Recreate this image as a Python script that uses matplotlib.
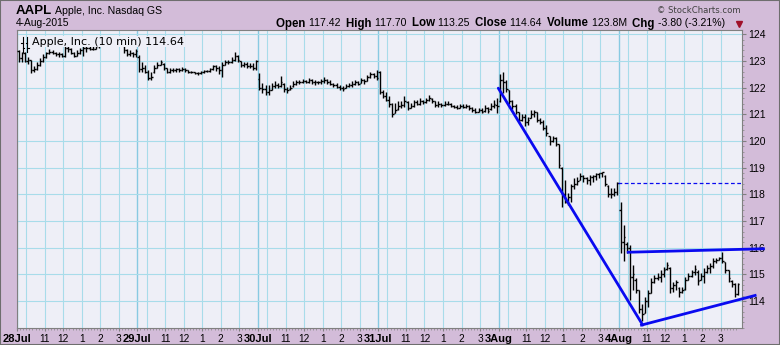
import matplotlib
matplotlib.use('Agg')
import matplotlib.pyplot as plt
from matplotlib.lines import Line2D
from matplotlib.patches import Rectangle
import numpy as np

# 10-minute bars (open, high, low, close), 39 per session
jul28 = [(123.38, 123.42, 122.95, 123.10), (123.10, 123.35, 122.95, 123.30), (123.30, 123.35, 122.95, 123.00),
         (123.00, 123.15, 122.90, 123.05), (123.05, 123.05, 122.55, 122.65), (122.65, 122.80, 122.60, 122.70),
         (122.70, 122.95, 122.65, 122.85), (122.85, 123.10, 122.80, 123.00), (123.00, 123.25, 122.95, 123.15),
         (123.15, 123.35, 123.10, 123.30), (123.30, 123.45, 123.25, 123.35), (123.35, 123.40, 123.25, 123.30),
         (123.30, 123.35, 123.20, 123.25), (123.25, 123.35, 123.15, 123.25), (123.25, 123.30, 123.15, 123.20),
         (123.20, 123.60, 123.15, 123.50), (123.50, 123.60, 123.35, 123.45), (123.45, 123.50, 123.25, 123.30),
         (123.30, 123.35, 123.15, 123.20), (123.20, 123.40, 123.20, 123.30), (123.30, 123.50, 123.25, 123.40),
         (123.40, 123.60, 123.20, 123.50), (123.50, 123.60, 123.35, 123.50), (123.50, 123.55, 123.40, 123.45),
         (123.45, 123.55, 123.40, 123.45), (123.45, 123.65, 123.45, 123.55), (123.55, 123.70, 123.50, 123.60),
         (123.60, 123.80, 123.55, 123.70), (123.70, 123.80, 123.65, 123.75), (123.75, 123.82, 123.68, 123.75),
         (123.75, 123.91, 123.70, 123.80), (123.80, 123.85, 123.70, 123.75), (123.75, 123.80, 123.65, 123.75),
         (123.75, 123.85, 123.65, 123.70), (123.70, 123.75, 123.30, 123.40), (123.40, 123.45, 123.20, 123.25),
         (123.25, 123.40, 123.20, 123.30), (123.30, 123.35, 123.15, 123.25), (123.25, 123.45, 123.15, 123.38)]
jul29 = [(123.15, 123.22, 122.60, 122.70), (122.70, 122.97, 122.60, 122.75), (122.75, 122.85, 122.55, 122.60),
         (122.60, 122.66, 122.29, 122.35), (122.35, 122.60, 122.27, 122.40), (122.60, 122.85, 122.55, 122.75),
         (122.75, 122.97, 122.72, 122.85), (122.85, 123.04, 122.85, 122.95), (122.90, 122.91, 122.66, 122.75),
         (122.75, 122.75, 122.54, 122.60), (122.60, 122.72, 122.55, 122.65), (122.65, 122.72, 122.58, 122.65),
         (122.65, 122.75, 122.58, 122.70), (122.70, 122.72, 122.58, 122.65), (122.65, 122.76, 122.62, 122.70),
         (122.70, 122.72, 122.58, 122.65), (122.65, 122.66, 122.56, 122.60), (122.60, 122.62, 122.54, 122.57),
         (122.57, 122.60, 122.52, 122.55), (122.55, 122.60, 122.48, 122.55), (122.55, 122.62, 122.52, 122.58),
         (122.58, 122.66, 122.55, 122.62), (122.62, 122.66, 122.58, 122.64), (122.64, 122.72, 122.60, 122.68),
         (122.68, 122.85, 122.66, 122.80), (122.80, 122.85, 122.62, 122.75), (122.75, 122.80, 122.52, 122.65),
         (122.65, 122.97, 122.41, 122.85), (122.85, 123.03, 122.85, 122.95), (122.95, 123.03, 122.88, 122.95),
         (122.95, 123.15, 122.92, 123.05), (123.05, 123.32, 123.00, 123.20), (123.20, 123.22, 122.97, 123.05),
         (123.00, 123.00, 122.78, 122.85), (122.85, 122.97, 122.78, 122.90), (122.90, 122.97, 122.72, 122.80),
         (122.80, 122.91, 122.72, 122.80), (122.80, 122.91, 122.66, 122.75), (122.75, 123.02, 122.66, 122.99)]
jul30 = [(122.32, 122.54, 121.92, 122.00), (122.00, 122.17, 121.79, 121.95), (121.95, 122.10, 121.73, 121.85),
         (121.85, 122.10, 121.71, 121.90), (121.90, 122.17, 121.92, 122.05), (122.05, 122.23, 121.98, 122.10),
         (122.10, 122.17, 121.98, 122.05), (122.05, 122.42, 122.04, 122.20), (122.15, 122.17, 121.85, 121.95),
         (121.95, 122.04, 121.79, 121.90), (121.95, 122.10, 121.92, 122.00), (122.05, 122.23, 122.04, 122.15),
         (122.15, 122.29, 122.10, 122.20), (122.20, 122.29, 122.14, 122.22), (122.22, 122.32, 122.17, 122.25),
         (122.25, 122.29, 122.17, 122.22), (122.22, 122.35, 122.17, 122.30), (122.30, 122.32, 122.14, 122.20),
         (122.20, 122.29, 122.10, 122.22), (122.22, 122.26, 122.14, 122.20), (122.20, 122.32, 122.14, 122.25),
         (122.25, 122.39, 122.17, 122.30), (122.30, 122.32, 122.14, 122.22), (122.22, 122.29, 122.10, 122.15),
         (122.15, 122.19, 122.04, 122.08), (122.08, 122.17, 121.98, 122.02), (122.02, 122.10, 121.92, 121.98),
         (121.98, 122.06, 121.89, 121.95), (122.00, 122.14, 121.98, 122.05), (122.05, 122.17, 122.02, 122.10),
         (122.10, 122.23, 122.04, 122.15), (122.15, 122.29, 122.10, 122.20), (122.20, 122.26, 122.10, 122.15),
         (122.18, 122.35, 122.17, 122.30), (122.30, 122.32, 122.14, 122.25), (122.25, 122.48, 122.23, 122.40),
         (122.40, 122.57, 122.35, 122.50), (122.50, 122.54, 122.35, 122.45), (122.45, 122.66, 122.30, 122.37)]
jul31 = [(122.60, 122.64, 121.75, 121.85), (121.85, 121.92, 121.60, 121.70), (121.70, 121.85, 121.48, 121.55),
         (121.55, 121.67, 121.29, 121.40), (121.40, 121.42, 120.91, 121.00), (121.05, 121.42, 121.04, 121.15),
         (121.20, 121.48, 121.17, 121.30), (121.30, 121.48, 121.23, 121.35), (121.35, 121.67, 121.29, 121.50),
         (121.45, 121.48, 121.17, 121.25), (121.25, 121.42, 121.23, 121.30), (121.30, 121.54, 121.29, 121.45),
         (121.45, 121.54, 121.35, 121.40), (121.40, 121.60, 121.35, 121.50), (121.50, 121.54, 121.39, 121.45),
         (121.45, 121.60, 121.42, 121.52), (121.52, 121.73, 121.48, 121.62), (121.58, 121.60, 121.42, 121.48),
         (121.48, 121.48, 121.29, 121.35), (121.35, 121.48, 121.29, 121.38), (121.38, 121.44, 121.29, 121.35),
         (121.35, 121.48, 121.32, 121.40), (121.40, 121.48, 121.35, 121.38), (121.38, 121.42, 121.26, 121.30),
         (121.30, 121.35, 121.23, 121.28), (121.28, 121.35, 121.19, 121.25), (121.25, 121.39, 121.23, 121.30),
         (121.30, 121.39, 121.23, 121.28), (121.28, 121.39, 121.23, 121.32), (121.32, 121.35, 121.17, 121.22),
         (121.22, 121.29, 121.10, 121.15), (121.15, 121.25, 121.06, 121.10), (121.10, 121.23, 121.10, 121.15),
         (121.15, 121.23, 121.04, 121.08), (121.12, 121.35, 121.10, 121.25), (121.25, 121.29, 121.06, 121.12),
         (121.20, 121.42, 121.17, 121.30), (121.30, 121.54, 121.23, 121.40), (121.35, 121.60, 121.04, 121.30)]
aug3 = [(121.50, 122.50, 121.45, 122.30), (122.30, 122.57, 121.80, 122.20), (122.20, 122.30, 121.85, 121.95),
        (121.90, 121.90, 121.40, 121.50), (121.50, 121.55, 121.20, 121.30), (121.30, 121.40, 121.00, 121.10),
        (121.10, 121.10, 120.70, 120.80), (120.80, 121.00, 120.75, 120.90), (120.90, 121.00, 120.55, 120.70),
        (120.70, 120.90, 120.60, 120.80), (120.85, 121.15, 120.85, 121.00), (121.00, 121.15, 120.90, 121.10),
        (121.10, 121.10, 120.70, 120.80), (120.80, 120.85, 120.65, 120.70), (120.70, 120.80, 120.40, 120.50),
        (120.50, 120.60, 120.20, 120.30), (120.20, 120.20, 119.85, 120.00), (120.00, 120.20, 119.95, 120.10),
        (120.10, 120.15, 119.80, 119.90), (119.90, 119.90, 119.00, 119.10), (119.00, 119.04, 117.52, 118.00),
        (118.00, 118.54, 117.67, 117.70), (117.70, 118.04, 117.60, 117.90), (117.90, 118.40, 117.70, 118.30),
        (118.30, 118.60, 118.20, 118.40), (118.40, 118.65, 118.35, 118.50), (118.55, 118.80, 118.55, 118.70),
        (118.70, 118.72, 118.45, 118.60), (118.60, 118.66, 118.40, 118.55), (118.55, 118.72, 118.35, 118.65),
        (118.65, 118.72, 118.48, 118.70), (118.70, 118.80, 118.55, 118.75), (118.75, 118.80, 118.60, 118.80),
        (118.80, 118.85, 118.65, 118.85), (118.70, 118.72, 118.30, 118.40), (118.30, 118.35, 117.90, 118.00),
        (118.00, 118.22, 117.85, 118.00), (118.00, 118.22, 117.92, 118.10), (118.10, 118.48, 117.98, 118.44)]
aug4 = [(117.42, 117.70, 115.80, 116.20), (116.20, 116.85, 115.50, 116.40), (116.15, 116.20, 115.80, 116.00),
        (116.00, 116.10, 114.04, 114.90), (114.90, 115.35, 114.40, 115.00), (114.80, 114.85, 114.29, 114.40),
        (114.40, 114.40, 113.54, 113.70), (113.70, 113.90, 113.25, 113.50), (113.55, 114.17, 113.54, 114.00),
        (114.00, 114.42, 113.79, 114.30), (114.30, 114.85, 114.29, 114.70), (114.70, 114.98, 114.66, 114.85),
        (114.85, 115.04, 114.79, 114.90), (114.90, 115.17, 114.73, 115.00), (115.00, 115.29, 114.92, 115.15),
        (115.20, 115.48, 115.17, 115.35), (115.25, 115.29, 114.29, 114.50), (114.50, 114.73, 114.35, 114.60),
        (114.60, 114.79, 114.42, 114.70), (114.50, 114.54, 114.17, 114.35), (114.35, 114.54, 114.29, 114.40),
        (114.45, 114.92, 114.42, 114.80), (114.80, 115.04, 114.79, 114.95), (114.95, 115.17, 114.92, 115.10),
        (115.10, 115.35, 114.98, 115.20), (115.10, 115.17, 114.60, 114.75), (114.80, 115.04, 114.79, 114.95),
        (114.95, 115.23, 114.67, 115.10), (115.10, 115.35, 115.04, 115.25), (115.25, 115.42, 115.04, 115.30),
        (115.30, 115.60, 115.23, 115.50), (115.50, 115.60, 115.42, 115.55), (115.55, 115.67, 115.54, 115.62),
        (115.62, 115.85, 115.42, 115.50), (115.45, 115.48, 115.04, 115.15), (115.15, 115.17, 114.73, 114.85),
        (114.75, 114.79, 114.54, 114.65), (114.65, 114.67, 114.17, 114.25), (114.25, 114.67, 114.23, 114.64)]

day_labels = ['28Jul', '29Jul', '30Jul', '31Jul', '3Aug', '4Aug']
hour_labels = ['11', '12', '1', '2', '3']
y_ticks = [114, 115, 116, 117, 118, 119, 120, 121, 122, 123, 124]

# trend lines drawn on the chart (bar index, price)
down_x, down_y = [155.4, 202.2], [121.98, 113.10]
upper_x, upper_y = [197.5, 241.3], [115.83, 115.96]
lower_x, lower_y = [201.8, 238.6], [113.10, 114.21]
prev_close = 118.44

header_items = [('Open', '117.42'), ('High', '117.70'), ('Low', '113.25'),
                ('Close', '114.64'), ('Volume', '123.8M'), ('Chg', '-3.80 (-3.21%)')]

bars = jul28 + jul29 + jul30 + jul31 + aug3 + aug4
o, h, l, c = np.array(bars).T
x = np.arange(len(bars))
per_day = 39

W, H = 780, 345
bg = '#D3BCD9'
plot_bg = '#EEEFF7'
grid_c = '#A8DCEA'
day_c = '#88CAE2'

fig = plt.figure(figsize=(7.8, 3.45), dpi=100, facecolor=bg)
ax = fig.add_axes([17 / W, (H - 328) / H, 725 / W, 298 / H])
ax.set_facecolor(plot_bg)
ax.set_xlim(-0.5, 234.35)
ax.set_ylim(112.99, 124.16)

# grid
for d in range(len(day_labels)):
    start = d * per_day - 0.5
    ax.axvline(start, color=day_c, lw=1.0, zorder=1)
    for k in range(6):
        ax.axvline(start + 3 + 6 * k, color=grid_c, lw=0.8, zorder=1)
for yv in y_ticks:
    ax.axhline(yv, color=grid_c, lw=0.8, zorder=1)

# OHLC bars
ax.vlines(x, l, h, color='black', lw=1.0, zorder=3)
ax.hlines(o, x - 0.5, x, color='black', lw=1.0, zorder=3)
ax.hlines(c, x, x + 0.5, color='black', lw=1.0, zorder=3)

# annotations
ax.plot(down_x, down_y, color='#0A0AF0', lw=2.0, zorder=4, solid_capstyle='round')
ax.plot(upper_x, upper_y, color='#0A0AF0', lw=2.0, zorder=4, clip_on=False)
ax.plot(lower_x, lower_y, color='#0A0AF0', lw=2.0, zorder=4, clip_on=False)
ax.plot([194.3, 234.35], [prev_close, prev_close], color='#0A0AF0', lw=0.9,
        ls=(0, (3, 2)), zorder=4)

# axes styling
for s in ax.spines.values():
    s.set_color('#808080')
    s.set_linewidth(0.8)
ax.yaxis.tick_right()
ax.set_yticks(y_ticks)
ax.set_yticklabels([str(v) for v in y_ticks], fontsize=7.5, family='Liberation Sans')
ax.set_yticks(np.arange(113.0, 124.16, 0.2), minor=True)
ax.tick_params(axis='y', which='major', length=3, width=0.8, color='#808080', pad=1.5)
ax.tick_params(axis='y', which='minor', length=1.5, width=0.6, color='#909090')

xt, xl = [], []
for d, lab in enumerate(day_labels):
    start = d * per_day - 0.5
    xt.append(start)
    xl.append(lab)
    for k, hl in enumerate(hour_labels):
        xt.append(start + 9 + 6 * k)
        xl.append(hl)
ax.set_xticks(xt)
ax.set_xticklabels(xl, fontsize=7.3, family='Liberation Sans')
for t, lab in zip(ax.get_xticklabels(), xl):
    if lab in day_labels:
        t.set_fontweight('bold')
        t.set_fontsize(8)
ax.set_xticks(x - 0.5, minor=True)
ax.tick_params(axis='x', which='major', length=2, width=0.8, color='#808080', pad=2)
ax.tick_params(axis='x', which='minor', length=1.5, width=0.6, color='#909090')

# legend inside the chart
ax.text(0.021, 0.978, 'Apple, Inc. (10 min) 114.64', transform=ax.transAxes,
        fontsize=8, family='DejaVu Sans', va='top', ha='left', zorder=6,
        bbox=dict(facecolor=plot_bg, edgecolor='none', pad=0.2))
for dx in (0.0, 0.006):
    x0 = 0.008 + dx
    ax.add_line(Line2D([x0, x0], [0.925, 0.975], transform=ax.transAxes, color='black', lw=0.8, zorder=7))
    ax.add_line(Line2D([x0 - 0.002, x0], [0.955, 0.955], transform=ax.transAxes, color='black', lw=0.8, zorder=7))
    ax.add_line(Line2D([x0, x0 + 0.002], [0.94, 0.94], transform=ax.transAxes, color='black', lw=0.8, zorder=7))

# header
fig.text(16 / W, 1 - 10.5 / H, 'AAPL', fontsize=9.5, fontweight='bold',
         family='Liberation Sans', va='center', ha='left')
fig.text(55 / W, 1 - 10.5 / H, 'Apple, Inc. Nasdaq GS', fontsize=7.6,
         family='Liberation Sans', va='center', ha='left')
fig.text(16 / W, 1 - 23.5 / H, '4-Aug-2015', fontsize=7.4,
         family='Liberation Sans', va='center', ha='left')
fig.text(741 / W, 1 - 10.5 / H, '\u00a9 StockCharts.com', fontsize=6.1,
         family='DejaVu Sans', color='#404040', va='center', ha='right')

renderer = fig.canvas.get_renderer()
xpos = 276.0
for name, val in header_items:
    t = fig.text(xpos / W, 1 - 23.5 / H, name + ' ', fontsize=8.3, fontweight='bold',
                 family='Liberation Sans', va='center', ha='left')
    xpos += t.get_window_extent(renderer).width
    t = fig.text(xpos / W, 1 - 23.5 / H, val + '  ', fontsize=7.6,
                 family='Liberation Sans', va='center', ha='left')
    xpos += t.get_window_extent(renderer).width
fig.add_artist(Line2D([739 / W], [1 - 23.5 / H], marker='v', markersize=4.5,
                      color='#A0102A', transform=fig.transFigure))

fig.patches.append(Rectangle((0, 0), 1, 1, transform=fig.transFigure, fill=False,
                             edgecolor='#6E6E6E', lw=1.5))

fig.savefig('out.png', dpi=100, facecolor=bg)
